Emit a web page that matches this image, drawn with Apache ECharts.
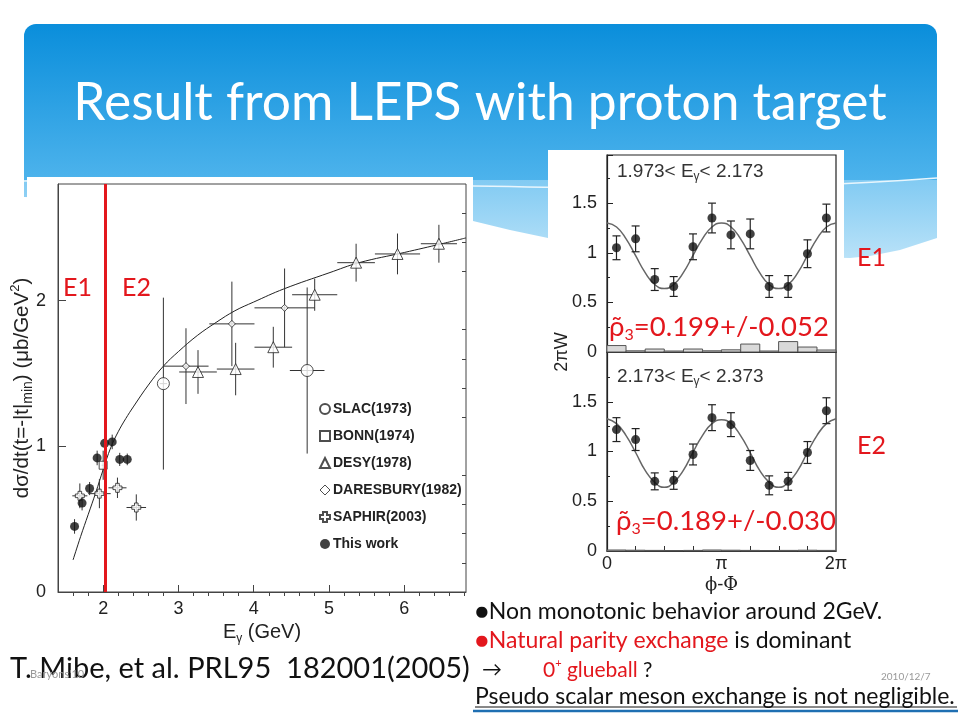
<!DOCTYPE html>
<html><head><meta charset="utf-8">
<script src="https://cdn.jsdelivr.net/npm/echarts@6/dist/echarts.min.js"></script>
<style>html,body{margin:0;padding:0;background:#fff}#c{width:960px;height:720px}</style>
</head><body><div id="c"></div>
<script>
// ---------- Left chart: d sigma/dt at t=-|t|min vs E_gamma ----------
const thisWorkE   = [1.62, 1.72, 1.82, 1.92, 2.02, 2.12, 2.22, 2.32];
const thisWorkV   = [0.45, 0.61, 0.71, 0.92, 1.02, 1.03, 0.91, 0.91];
const thisWorkErr = [0.05, 0.05, 0.045, 0.05, 0.05, 0.05, 0.045, 0.04];

const saphirE    = [1.69, 1.95, 2.19, 2.44];
const saphirV    = [0.66, 0.675, 0.715, 0.58];
const saphirXErr = [0.10, 0.15, 0.12, 0.13];
const saphirYErr = [0.085, 0.10, 0.07, 0.09];

const desyE    = [3.26, 3.76, 4.26, 4.81, 5.36, 5.91, 6.46];
const desyV    = [1.51, 1.53, 1.68, 2.04, 2.26, 2.32, 2.39];
const desyXErr = [0.25, 0.25, 0.25, 0.30, 0.25, 0.30, 0.24];
const desyYErr = [0.15, 0.18, 0.14, 0.11, 0.13, 0.14, 0.13];

const slacE    = [2.80, 4.71];
const slacV    = [1.43, 1.52];
const slacXErr = [0.05, 0.23];
const slacYErr = [0.59, 0.57];

const daresE    = [3.10, 3.71, 4.41];
const daresV    = [1.55, 1.84, 1.95];
const daresXErr = [0.30, 0.30, 0.40];
const daresYErr = [0.26, 0.29, 0.27];

const bonnE    = [2.00];
const bonnV    = [0.87];
const bonnXErr = [0.02];
const bonnYErr = [0.10];

const fitE = [1.60, 1.70, 1.80, 1.90, 2.00, 2.10, 2.20, 2.30, 2.40, 2.60, 2.80, 3.00, 3.25, 3.50, 3.75, 4.00, 4.40, 5.00, 5.40, 6.00, 6.50, 6.82];
const fitV = [0.22, 0.38, 0.53, 0.68, 0.84, 0.99, 1.10, 1.19, 1.27, 1.42, 1.55, 1.65, 1.76, 1.85, 1.93, 1.99, 2.08, 2.19, 2.26, 2.33, 2.39, 2.43];

const xMajorTicks = [2, 3, 4, 5, 6];
const xMinorTicks = [1.6, 1.8, 2.2, 2.4, 2.6, 2.8, 3.2, 3.4, 3.6, 3.8, 4.2, 4.4, 4.6, 4.8, 5.2, 5.4, 5.6, 5.8, 6.2, 6.4, 6.6, 6.8];
const yMajorTicks = [0, 1, 2];
const yMinorTicks = [0.2, 0.4, 0.6, 0.8, 1.2, 1.4, 1.6, 1.8, 2.2, 2.4, 2.6];
const E1E2Boundary = 2.03;

const legendNames = ['SLAC(1973)', 'BONN(1974)', 'DESY(1978)', 'DARESBURY(1982)', 'SAPHIR(2003)', 'This work'];

// ---------- Right chart: 2πW vs phi-Phi ----------
const phiBins = [0.26, 0.785, 1.31, 1.83, 2.36, 2.88, 3.40, 3.93, 4.45, 4.97, 5.50, 6.02];
const e1V   = [1.05, 1.14, 0.73, 0.66, 1.06, 1.35, 1.18, 1.19, 0.66, 0.66, 0.99, 1.35];
const e1Err = [0.12, 0.13, 0.11, 0.10, 0.13, 0.15, 0.14, 0.15, 0.11, 0.11, 0.14, 0.14];
const e1Sys = [0.065, 0.012, 0.03, 0.01, 0.03, 0.012, 0.022, 0.08, 0.01, 0.105, 0.05, 0.02];
const e2V   = [1.22, 1.12, 0.70, 0.71, 0.97, 1.34, 1.27, 0.91, 0.66, 0.70, 0.99, 1.41];
const e2Err = [0.12, 0.11, 0.085, 0.09, 0.105, 0.13, 0.12, 0.10, 0.095, 0.09, 0.11, 0.13];
const e2Sys = [0.01, 0.008, 0.006, 0.005, 0.006, 0.01, 0.008, 0.006, 0.005, 0.006, 0.008, 0.006];

const fitPhi = [0, 0.2618, 0.5236, 0.7854, 1.0472, 1.3090, 1.5708, 1.8326, 2.0944, 2.3562, 2.6180, 2.8798, 3.1416,
                3.4034, 3.6652, 3.9270, 4.1888, 4.4506, 4.7124, 4.9742, 5.2360, 5.4978, 5.7596, 6.0214, 6.2832];
const fitE1 = [1.30, 1.26, 1.14, 0.97, 0.80, 0.68, 0.64, 0.68, 0.80, 0.97, 1.14, 1.26, 1.30,
               1.26, 1.14, 0.97, 0.80, 0.68, 0.64, 0.68, 0.80, 0.97, 1.14, 1.26, 1.30];
const fitE2 = [1.33, 1.28, 1.16, 0.99, 0.81, 0.69, 0.64, 0.69, 0.81, 0.99, 1.16, 1.28, 1.32,
               1.28, 1.16, 0.99, 0.81, 0.69, 0.64, 0.69, 0.81, 0.99, 1.16, 1.28, 1.33];
const phiLabelTicks = [0, Math.PI, 2 * Math.PI];
const phiMinorTicks = [Math.PI / 4, Math.PI / 2, 3 * Math.PI / 4, 5 * Math.PI / 4, 3 * Math.PI / 2, 7 * Math.PI / 4];
const binHalf = Math.PI / 12;

// ---------- helpers ----------
const chartFont = 'Liberation Sans, Arial, sans-serif';
const slideFont = 'Lato, "Open Sans", sans-serif';
function pts(xs, ys) { return xs.map((x, i) => [x, ys[i]]); }
function errSeries(xs, ys, xe, ye, xi, yi, cap, color, width) {
  return {
    type: 'custom', xAxisIndex: xi, yAxisIndex: yi, silent: true, z: 3,
    data: xs.map((x, i) => [x, ys[i], xe[i], ye[i]]),
    encode: { x: 0, y: 1 },
    renderItem(params, api) {
      const x = api.value(0), y = api.value(1), dx = api.value(2), dy = api.value(3);
      const c = api.coord([x, y]);
      const l = api.coord([x - dx, y]), r = api.coord([x + dx, y]);
      const t = api.coord([x, y + dy]), b = api.coord([x, y - dy]);
      const st = { stroke: color, lineWidth: width };
      const ch = [];
      if (dx > 0) ch.push({ type: 'line', shape: { x1: l[0], y1: c[1], x2: r[0], y2: c[1] }, style: st });
      ch.push({ type: 'line', shape: { x1: c[0], y1: t[1], x2: c[0], y2: b[1] }, style: st });
      if (cap) {
        ch.push({ type: 'line', shape: { x1: c[0] - cap, y1: t[1], x2: c[0] + cap, y2: t[1] }, style: st });
        ch.push({ type: 'line', shape: { x1: c[0] - cap, y1: b[1], x2: c[0] + cap, y2: b[1] }, style: st });
      }
      return { type: 'group', children: ch };
    }
  };
}
function sysSeries(xs, hs, xi, yi) {
  return {
    type: 'custom', xAxisIndex: xi, yAxisIndex: yi, silent: true, z: 2,
    data: xs.map((x, i) => [x, hs[i]]),
    encode: { x: 0, y: 1 },
    renderItem(params, api) {
      const x = api.value(0), h = api.value(1);
      const p0 = api.coord([x - binHalf, 0]), p1 = api.coord([x + binHalf, h]);
      return { type: 'rect', shape: { x: p0[0], y: p1[1], width: p1[0] - p0[0], height: p0[1] - p1[1] },
        style: { fill: '#d9d9d9', stroke: '#555', lineWidth: 1 } };
    }
  };
}

const openStyle = { color: '#fff', borderColor: '#222', borderWidth: 1 };
const saphirPath = 'path://M3,0 H7 V3 H10 V7 H7 V10 H3 V7 H0 V3 H3 Z';

const option = {
  animation: false,
  backgroundColor: '#fff',
  textStyle: { fontFamily: chartFont },
  grid: [
    { left: 58, top: 184, width: 408, height: 408, show: true, borderColor: '#444', borderWidth: 1, backgroundColor: 'transparent' },
    { left: 607, top: 155, width: 229, height: 197, show: true, borderColor: '#222', borderWidth: 1.2, backgroundColor: 'transparent' },
    { left: 607, top: 352, width: 229, height: 199, show: true, borderColor: '#222', borderWidth: 1.2, backgroundColor: 'transparent' }
  ],
  legend: {
    left: 314, top: 397, orient: 'vertical', itemGap: 13, itemWidth: 10, itemHeight: 10,
    selectedMode: false,
    textStyle: { fontFamily: chartFont, fontWeight: 'bold', fontSize: 14, color: '#222', lineHeight: 14, padding: [0, 0, 0, -2] },
    data: legendNames.map(n => n === 'DARESBURY(1982)' ? { name: n, itemStyle: { color: '#fff', borderColor: '#222', borderWidth: 1 } } : { name: n })
  },
  xAxis: [
    { gridIndex: 0, type: 'value', min: 1.4, max: 6.82,
      name: '{a|E}{s|γ}{a| (GeV)}', nameLocation: 'middle', nameGap: 26,
      nameTextStyle: { rich: { a: { fontSize: 20, color: '#222', lineHeight: 24, fontFamily: chartFont }, s: { fontSize: 12, color: '#222', lineHeight: 12, verticalAlign: 'bottom', fontFamily: chartFont } } },
      axisLine: { show: true, lineStyle: { color: '#444' } },
      axisTick: { show: true, inside: true, length: 7, customValues: xMajorTicks, lineStyle: { color: '#444' } },
      axisLabel: { show: true, customValues: xMajorTicks, fontSize: 18, color: '#222', margin: 8 },
      splitLine: { show: false } },
    { gridIndex: 0, type: 'value', min: 1.4, max: 6.82,
      axisLine: { show: false },
      axisTick: { show: true, inside: true, length: 4, customValues: xMinorTicks, lineStyle: { color: '#444' } },
      axisLabel: { show: false }, splitLine: { show: false } },
    { gridIndex: 1, type: 'value', min: 0, max: 2 * Math.PI,
      axisLine: { show: true, lineStyle: { color: '#222', width: 1.2 } },
      axisTick: { show: false }, axisLabel: { show: false }, splitLine: { show: false } },
    { gridIndex: 2, type: 'value', min: 0, max: 2 * Math.PI,
      name: 'ϕ-Φ', nameLocation: 'middle', nameGap: 25,
      nameTextStyle: { fontSize: 18, color: '#222', fontFamily: 'DejaVu Serif, serif' },
      axisLine: { show: true, lineStyle: { color: '#222', width: 1.2 } },
      axisTick: { show: true, inside: true, length: 5, customValues: phiMinorTicks, lineStyle: { color: '#333' } },
      axisLabel: { show: true, customValues: phiLabelTicks, fontSize: 18, color: '#222', margin: 4,
        formatter: v => v < 0.1 ? '0' : (v < 4 ? 'π' : '2π') },
      splitLine: { show: false } }
  ],
  yAxis: [
    { gridIndex: 0, type: 'value', min: 0, max: 2.8,
      name: '{a|dσ/dt(t=-|t|}{s|min}{a|) (μb/GeV}{p|2}{a|)}', nameLocation: 'middle', nameGap: 23, nameRotate: 90, nameMoveOverlap: false,
      nameTextStyle: { rich: { a: { fontSize: 20.5, color: '#222', lineHeight: 26, fontFamily: chartFont }, s: { fontSize: 14, color: '#222', lineHeight: 14, verticalAlign: 'bottom', fontFamily: chartFont }, p: { fontSize: 13, color: '#222', lineHeight: 13, verticalAlign: 'top', fontFamily: chartFont } } },
      axisLine: { show: true, lineStyle: { color: '#444' } },
      axisTick: { show: true, inside: true, length: 8, customValues: yMajorTicks, lineStyle: { color: '#444' } },
      axisLabel: { show: true, customValues: yMajorTicks, fontSize: 18, color: '#222', margin: 12 },
      splitLine: { show: false } },
    { gridIndex: 0, type: 'value', min: 0, max: 2.8,
      axisLine: { show: false },
      axisTick: { show: true, inside: true, length: 4, customValues: yMinorTicks, lineStyle: { color: '#444' } },
      axisLabel: { show: false }, splitLine: { show: false } },
    { gridIndex: 1, type: 'value', min: 0, max: 1.985, interval: 0.5,
      axisLine: { show: true, lineStyle: { color: '#222', width: 1.2 } },
      axisTick: { show: true, inside: true, length: 6, lineStyle: { color: '#222' } },
      minorTick: { show: true, splitNumber: 2, length: 3, lineStyle: { color: '#222' } },
      axisLabel: { fontSize: 18, color: '#222', margin: 10, showMaxLabel: false },
      splitLine: { show: false } },
    { gridIndex: 2, type: 'value', min: 0, max: 2.0, interval: 0.5,
      axisLine: { show: true, lineStyle: { color: '#222', width: 1.2 } },
      axisTick: { show: true, inside: true, length: 6, lineStyle: { color: '#222' } },
      minorTick: { show: true, splitNumber: 2, length: 3, lineStyle: { color: '#222' } },
      axisLabel: { fontSize: 18, color: '#222', margin: 10, showMaxLabel: false },
      splitLine: { show: false } }
  ],
  series: [
    { type: 'line', xAxisIndex: 0, yAxisIndex: 0, data: pts(fitE, fitV), smooth: 0.4, symbol: 'none',
      lineStyle: { color: '#222', width: 1 }, z: 2, silent: true,
      markLine: { silent: true, symbol: 'none', label: { show: false }, z: 10,
        lineStyle: { color: '#e3171d', width: 3, type: 'solid' }, data: [{ xAxis: E1E2Boundary }] } },
    errSeries(slacE, slacV, slacXErr, slacYErr, 0, 0, 0, '#333', 1),
    errSeries(bonnE, bonnV, bonnXErr, bonnYErr, 0, 0, 0, '#333', 1),
    errSeries(desyE, desyV, desyXErr, desyYErr, 0, 0, 0, '#333', 1),
    errSeries(daresE, daresV, daresXErr, daresYErr, 0, 0, 0, '#333', 1),
    errSeries(saphirE, saphirV, saphirXErr, saphirYErr, 0, 0, 0, '#333', 1),
    errSeries(thisWorkE, thisWorkV, thisWorkE.map(() => 0), thisWorkErr, 0, 0, 0, '#333', 1),
    { name: 'SLAC(1973)', type: 'scatter', xAxisIndex: 0, yAxisIndex: 0, data: pts(slacE, slacV), symbol: 'circle', symbolSize: 12, itemStyle: openStyle, z: 5 },
    { name: 'BONN(1974)', type: 'scatter', xAxisIndex: 0, yAxisIndex: 0, data: pts(bonnE, bonnV), symbol: 'rect', symbolSize: 8, itemStyle: openStyle, z: 5 },
    { name: 'DESY(1978)', type: 'scatter', xAxisIndex: 0, yAxisIndex: 0, data: pts(desyE, desyV), symbol: 'triangle', symbolSize: 11, itemStyle: openStyle, z: 5 },
    { name: 'DARESBURY(1982)', type: 'scatter', xAxisIndex: 0, yAxisIndex: 0, data: pts(daresE, daresV), symbol: 'diamond', symbolSize: 7, itemStyle: openStyle, z: 5 },
    { name: 'SAPHIR(2003)', type: 'scatter', xAxisIndex: 0, yAxisIndex: 0, data: pts(saphirE, saphirV), symbol: saphirPath, symbolSize: 9, itemStyle: openStyle, z: 5 },
    { name: 'This work', type: 'scatter', xAxisIndex: 0, yAxisIndex: 0, data: pts(thisWorkE, thisWorkV), symbol: 'circle', symbolSize: 9, itemStyle: { color: '#111' }, z: 5 },

    sysSeries(phiBins, e1Sys, 2, 2),
    { type: 'line', xAxisIndex: 2, yAxisIndex: 2, data: pts(fitPhi, fitE1), smooth: 0.5, symbol: 'none', lineStyle: { color: '#666', width: 1.5 }, z: 2, silent: true },
    errSeries(phiBins, e1V, phiBins.map(() => 0), e1Err, 2, 2, 4, '#222', 1.2),
    { type: 'scatter', xAxisIndex: 2, yAxisIndex: 2, data: pts(phiBins, e1V), symbol: 'circle', symbolSize: 9, itemStyle: { color: '#111' }, z: 5 },
    sysSeries(phiBins, e2Sys, 3, 3),
    { type: 'line', xAxisIndex: 3, yAxisIndex: 3, data: pts(fitPhi, fitE2), smooth: 0.5, symbol: 'none', lineStyle: { color: '#666', width: 1.5 }, z: 2, silent: true },
    errSeries(phiBins, e2V, phiBins.map(() => 0), e2Err, 3, 3, 4, '#222', 1.2),
    { type: 'scatter', xAxisIndex: 3, yAxisIndex: 3, data: pts(phiBins, e2V), symbol: 'circle', symbolSize: 9, itemStyle: { color: '#111' }, z: 5 }
  ],
  graphic: [
    // slide header
    { type: 'polygon', z: -20, shape: { points: [[24, 172], [937, 172], [937, 238], [900, 250], [870, 256], [850, 258], [800, 257], [700, 252], [620, 245], [548, 238], [510, 230], [473, 221], [400, 214], [300, 207], [200, 202], [100, 199], [24, 197]] },
      style: { fill: new echarts.graphic.LinearGradient(0, 0, 0, 1, [{ offset: 0, color: '#7cc8f2' }, { offset: 1, color: '#b9e2f8' }]) } },
    { type: 'rect', z: -19, shape: { x: 24, y: 24, width: 913, height: 156, r: [12, 12, 0, 0] },
      style: { fill: new echarts.graphic.LinearGradient(0, 0, 0, 1, [{ offset: 0, color: '#0a8edb' }, { offset: 1, color: '#4db3ec' }]) } },
    { type: 'bezierCurve', z: -18, shape: { x1: 24, y1: 181, cpx1: 300, cpy1: 174, cpx2: 620, cpy2: 202, x2: 937, y2: 178 }, style: { stroke: '#e8f6fd', lineWidth: 1.5, fill: null } },
    // white image panels
    { type: 'rect', z: -10, shape: { x: 27, y: 177, width: 446, height: 470 }, style: { fill: '#fff' } },
    { type: 'rect', z: -10, shape: { x: 548, y: 150, width: 296, height: 448 }, style: { fill: '#fff' } },
    // title
    { type: 'text', z: 50, style: { x: 480, y: 103, text: 'Result from LEPS with proton target', fill: '#fff', font: '51.5px ' + slideFont, textAlign: 'center', textVerticalAlign: 'middle' } },
    // E1/E2 labels
    { type: 'text', z: 50, style: { x: 63, y: 288, text: 'E1', fill: '#e3171d', font: '25px ' + slideFont, textVerticalAlign: 'middle' } },
    { type: 'text', z: 50, style: { x: 122, y: 288, text: 'E2', fill: '#e3171d', font: '25px ' + slideFont, textVerticalAlign: 'middle' } },
    { type: 'text', z: 50, style: { x: 857, y: 258, text: 'E1', fill: '#e3171d', font: '25px ' + slideFont, textVerticalAlign: 'middle' } },
    { type: 'text', z: 50, style: { x: 857, y: 446, text: 'E2', fill: '#e3171d', font: '25px ' + slideFont, textVerticalAlign: 'middle' } },
    // right panel labels
    { type: 'text', z: 50, style: { x: 617, y: 172, text: '{a|1.973< E}{s|γ}{a|< 2.173}', textVerticalAlign: 'middle',
      rich: { a: { fontSize: 19, fill: '#333', lineHeight: 22, fontFamily: chartFont }, s: { fontSize: 12, fill: '#333', lineHeight: 12, verticalAlign: 'bottom', fontFamily: chartFont } } } },
    { type: 'text', z: 50, style: { x: 617, y: 377, text: '{a|2.173< E}{s|γ}{a|< 2.373}', textVerticalAlign: 'middle',
      rich: { a: { fontSize: 19, fill: '#333', lineHeight: 22, fontFamily: chartFont }, s: { fontSize: 12, fill: '#333', lineHeight: 12, verticalAlign: 'bottom', fontFamily: chartFont } } } },
    { type: 'text', z: 50, rotation: Math.PI / 2, x: 562, y: 352, style: { x: 0, y: 0, text: '2πW', fill: '#222', font: '18px ' + chartFont, textAlign: 'center', textVerticalAlign: 'middle' } },
    { type: 'text', z: 50, style: { x: 609, y: 327, text: '{a|ρ̃}{s|3}{a|=0.199+/-0.052}', textVerticalAlign: 'middle',
      rich: { a: { fontSize: 27.5, fill: '#e3171d', lineHeight: 32, fontFamily: slideFont }, s: { fontSize: 16, fill: '#e3171d', lineHeight: 16, verticalAlign: 'bottom', fontFamily: slideFont } } } },
    { type: 'text', z: 50, style: { x: 616, y: 521, text: '{a|ρ̃}{s|3}{a|=0.189+/-0.030}', textVerticalAlign: 'middle',
      rich: { a: { fontSize: 27.5, fill: '#e3171d', lineHeight: 32, fontFamily: slideFont }, s: { fontSize: 16, fill: '#e3171d', lineHeight: 16, verticalAlign: 'bottom', fontFamily: slideFont } } } },
    // bottom texts
    { type: 'text', z: 50, style: { x: 475, y: 612, text: '●Non monotonic behavior around 2GeV.', fill: '#111', font: '23px ' + slideFont, textVerticalAlign: 'middle' } },
    { type: 'text', z: 50, style: { x: 475, y: 641, text: '{r|●Natural parity exchange}{k| is dominant}', textVerticalAlign: 'middle',
      rich: { r: { fontSize: 23, fill: '#e3171d', fontFamily: slideFont }, k: { fontSize: 23, fill: '#111', fontFamily: slideFont } } } },
    { type: 'text', z: 50, style: { x: 482, y: 670, text: '→', fill: '#111', font: '20px ' + slideFont, textVerticalAlign: 'middle' } },
    { type: 'text', z: 50, style: { x: 543, y: 670, text: '{r|0}{p|+}{r| glueball}{k| ?}', textVerticalAlign: 'middle',
      rich: { r: { fontSize: 21, fill: '#e3171d', lineHeight: 24, fontFamily: slideFont }, p: { fontSize: 11, fill: '#e3171d', lineHeight: 11, verticalAlign: 'top', fontFamily: slideFont }, k: { fontSize: 21, fill: '#111', lineHeight: 24, fontFamily: slideFont } } } },
    { type: 'text', z: 50, style: { x: 881, y: 677, text: '2010/12/7', fill: '#999', font: '10px ' + slideFont, textVerticalAlign: 'middle' } },
    { type: 'text', z: 50, style: { x: 475, y: 697, text: 'Pseudo scalar meson exchange is not negligible.', fill: '#111', font: '23px ' + slideFont, textVerticalAlign: 'middle' } },
    { type: 'line', z: 50, shape: { x1: 475, y1: 707, x2: 957, y2: 707 }, style: { stroke: '#111', lineWidth: 1 } },
    { type: 'line', z: 50, shape: { x1: 473, y1: 711, x2: 958, y2: 711 }, style: { stroke: '#1f6fb2', lineWidth: 2.5 } },
    { type: 'text', z: 50, style: { x: 10, y: 669, text: 'T. Mibe, et al. PRL95  182001(2005)', fill: '#111', font: '29px ' + slideFont, textVerticalAlign: 'middle' } },
    { type: 'text', z: 51, style: { x: 30, y: 674, text: "Baryons'10", fill: '#999', font: '11px ' + slideFont, textVerticalAlign: 'middle' } }
  ]
};

const chart = echarts.init(document.getElementById('c'), null, { renderer: 'canvas' });
chart.setOption(option);
</script>
</body></html>
